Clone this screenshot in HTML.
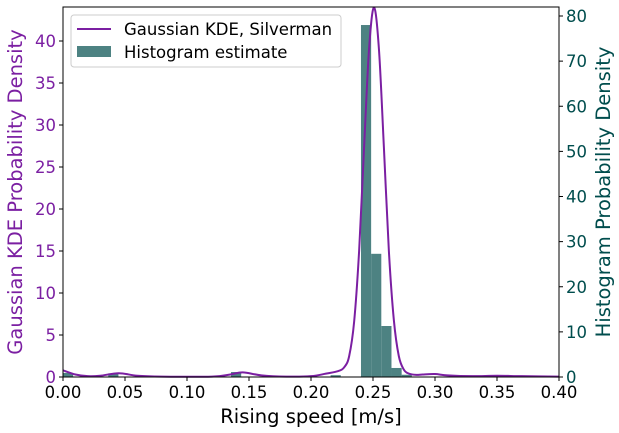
<!DOCTYPE html>
<html><head><meta charset="utf-8"><style>
body{margin:0;background:#fff;}
svg{display:block;font-family:"DejaVu Sans","Liberation Sans",sans-serif;}
</style></head><body>
<svg id="chart" width="619" height="433">
<rect x="0" y="0" width="619" height="433" fill="#fff"/>
<g id="bars"></g>
<g id="kde"></g>
<g id="axes"></g>
<g>
<rect x="71" y="15" width="270" height="52" rx="3" fill="#fff" fill-opacity="0.8" stroke="#ccc"/>
<line x1="77" y1="29" x2="111" y2="29" stroke="#7b1fa2" stroke-width="2"/>
<text x="124" y="35" font-size="16.5">Gaussian KDE, Silverman</text>
<rect x="77" y="46" width="34" height="11" fill="#4d8282"/>
<text x="124" y="58" font-size="16.5">Histogram estimate</text>
</g>
<text x="311" y="423" font-size="19.5" text-anchor="middle">Rising speed [m/s]</text>
<text transform="translate(22,192) rotate(-90)" font-size="19.5" text-anchor="middle" fill="#7b1fa2">Gaussian KDE Probability Density</text>
<text transform="translate(610,192) rotate(-90)" font-size="19.5" text-anchor="middle" fill="#004d4d">Histogram Probability Density</text>
</svg>
<script>
const binStarts=[0.0,0.0365,0.1355,0.2158,0.2403,0.2485,0.2567,0.2649,0.2731];
const binHeights=[0.9,0.8,1.1,0.4,78,27.3,11.3,2,0.5];
const binWidth=0.0082;
const kdeX=[0,0.01,0.02,0.03,0.045,0.06,0.08,0.12,0.135,0.145,0.16,0.18,0.2,0.212,0.222,0.227,0.2308,0.2348,0.2388,0.2428,0.2468,0.2508,0.2548,0.2588,0.2628,0.2668,0.2708,0.2748,0.279,0.285,0.29,0.30,0.31,0.33,0.35,0.37,0.4];
const kdeY=[0.8,0.3,0.1,0.15,0.45,0.15,0.05,0.05,0.3,0.55,0.2,0.05,0.1,0.4,0.7,1.2,2.5,6.6,15,27.3,39,44,39,27.3,15,6.8,2.5,0.9,0.4,0.25,0.3,0.35,0.2,0.1,0.15,0.1,0.05];
const xTicks=[0,0.05,0.1,0.15,0.2,0.25,0.3,0.35,0.4];
const xTickLabels=["0.00","0.05","0.10","0.15","0.20","0.25","0.30","0.35","0.40"];
const leftTicks=[0,5,10,15,20,25,30,35,40];
const rightTicks=[0,10,20,30,40,50,60,70,80];
const L=63,R=559,T=7,B=377;
const xs=v=>L+(v-0)/0.4*(R-L);
const yL=v=>B-v*8.4;
const yR=v=>B-v*(361/80);
const NS="http://www.w3.org/2000/svg";
function mk(tag,attrs,parent){const e=document.createElementNS(NS,tag);for(const k in attrs)e.setAttribute(k,attrs[k]);parent.appendChild(e);return e;}
const bars=document.getElementById('bars');
binStarts.forEach((s,i)=>{
 const x1=xs(s),x2=xs(s+binWidth),y=Math.max(T,yR(binHeights[i]));
 const r=mk('rect',{x:x1,y:y,width:x2-x1,height:B-y,fill:'#4d8282'},bars);
 
 
});
const kg=document.getElementById('kde');
let d='';
for(let i=0;i<kdeX.length;i++){
 const px=xs(kdeX[i]),py=Math.max(T-2,yL(kdeY[i]));
 if(i===0){d+='M'+px+','+py;}
 else{const p0x=xs(kdeX[Math.max(0,i-2)]),p0y=yL(kdeY[Math.max(0,i-2)]),p1x=xs(kdeX[i-1]),p1y=yL(kdeY[i-1]),p3x=xs(kdeX[Math.min(kdeX.length-1,i+1)]),p3y=yL(kdeY[Math.min(kdeX.length-1,i+1)]);
  const c1x=p1x+(px-p0x)/6,c1y=p1y+(py-p0y)/6,c2x=px-(p3x-p1x)/6,c2y=py-(p3y-p1y)/6;
  d+=' C'+c1x+','+c1y+' '+c2x+','+c2y+' '+px+','+py;}
}
const p=mk('path',{d:d,fill:'none',stroke:'#7b1fa2','stroke-width':2},kg);


const ax=document.getElementById('axes');
mk('rect',{x:L,y:T,width:R-L,height:B-T,fill:'none',stroke:'#000','stroke-width':1},ax);
xTicks.forEach((v,i)=>{
 mk('line',{x1:xs(v),x2:xs(v),y1:B,y2:B+4,stroke:'#000'},ax);
 const t=mk('text',{x:xs(v),y:B+21,'font-size':16.5,'text-anchor':'middle'},ax);t.textContent=xTickLabels[i];
 
 
});
leftTicks.forEach(v=>{
 mk('line',{x1:L-4,x2:L,y1:yL(v),y2:yL(v),stroke:'#000'},ax);
 const t=mk('text',{x:L-7,y:yL(v)+6,'font-size':16.5,'text-anchor':'end',fill:'#7b1fa2'},ax);t.textContent=v;
 
 
});
rightTicks.forEach(v=>{
 mk('line',{x1:R,x2:R+4,y1:yR(v),y2:yR(v),stroke:'#000'},ax);
 const t=mk('text',{x:R+7,y:yR(v)+6,'font-size':16.5,fill:'#004d4d'},ax);t.textContent=v;
 
 
});
</script>
</body></html>
